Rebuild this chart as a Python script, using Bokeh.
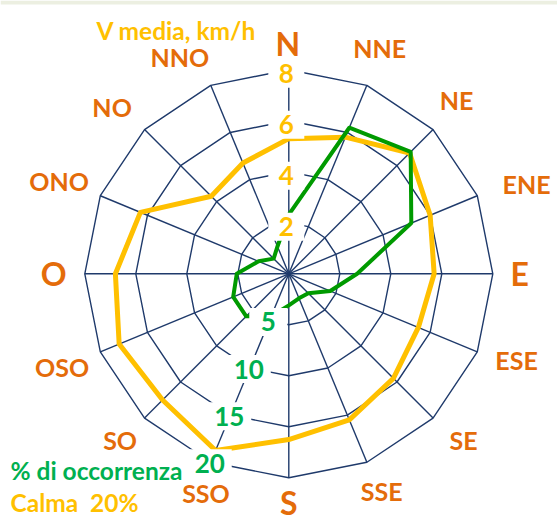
import numpy as np
from bokeh.plotting import figure
from bokeh.models import Range1d, Label
from bokeh.embed import file_html
from bokeh.resources import INLINE
from bokeh.core.properties import value

# ---------------- data ----------------
directions = ["N", "NNE", "NE", "ENE", "E", "ESE", "SE", "SSE",
              "S", "SSO", "SO", "OSO", "O", "ONO", "NO", "NNO"]
v_media = [5.3, 5.8, 6.7, 6.0, 5.7, 5.5, 5.8, 6.2,
           6.5, 7.5, 7.0, 7.2, 6.8, 6.3, 4.3, 4.7]          # km/h
occorrenza = [5.8, 15.5, 16.9, 13.0, 6.7, 4.4, 2.7, 2.6,
              3.1, 4.5, 5.9, 5.9, 5.1, 3.2, 2.1, 2.9]       # %
v_ticks = [2, 4, 6, 8]
occ_ticks = [5, 10, 15, 20]
V_MAX = 8
OCC_MAX = 20
title_v = "V media, km/h"
title_occ = "% di occorrenza"
calma_text = "Calma  20%"
big_dirs = ["N", "E", "S", "O"]

# ---------------- layout / styles ----------------
FONT = value("Lato")
C_DIR = "#E46C0A"
C_GOLD = "#FFC000"
C_GREEN_TXT = "#00B050"
C_GREEN_LINE = "#009A00"
C_GRID = "#1F3A6B"
W, H = 557, 522
CX, CY = 288.3, 273.3        # centre of the rose in page pixels
R = 204.0                    # outer ring radius in px
# small nudges (px, right / down) of the direction labels, as Excel placed them
nudge = {"N": (-1, 2), "NNE": (-1, -4), "NE": (-2, -4), "ENE": (16, 2),
         "E": (-1, 0), "ESE": (6, -6), "SE": (5, -4), "SSE": (1, -5),
         "S": (0, -3), "SSO": (9, -3), "SO": (1, -4), "OSO": (-5, 1),
         "O": (-3, 0), "ONO": (-8, -1), "NO": (-7, 3), "NNO": (-17, 5)}

n = len(directions)
theta = np.deg2rad(np.arange(n) * 360.0 / n)
s, c = np.sin(theta), np.cos(theta)


def polar(vals, vmax):
    r = np.asarray(vals, dtype=float) / vmax * R
    return r * s, r * c


def closed(a):
    a = list(a)
    return a + a[:1]


p = figure(width=W, height=H,
           x_range=Range1d(-CX, W - CX), y_range=Range1d(CY - H, CY),
           x_axis_type=None, y_axis_type=None,
           toolbar_location=None, output_backend="svg", min_border=0)
p.grid.visible = False
p.outline_line_color = None
p.background_fill_color = "white"
p.border_fill_color = "white"

# thin pale band at the top of the slide
p.quad(left=-CX, right=W - CX, top=CY, bottom=CY - 4,
       fill_color="#ECEFE1", line_color=None)

# grid rings
ring_xs, ring_ys = [], []
for t in v_ticks:
    gx_, gy_ = polar([t] * n, V_MAX)
    ring_xs.append(closed(gx_))
    ring_ys.append(closed(gy_))
p.multi_line(ring_xs, ring_ys, line_color=C_GRID, line_width=1.4)

# spokes
ox, oy = polar([V_MAX] * n, V_MAX)
p.segment(x0=np.zeros(n), y0=np.zeros(n), x1=ox, y1=oy,
          line_color=C_GRID, line_width=1.4)

# series
vx, vy = polar(v_media, V_MAX)
p.line(closed(vx), closed(vy), line_color=C_GOLD, line_width=5, line_join="round")
gx, gy = polar(occorrenza, OCC_MAX)
p.line(closed(gx), closed(gy), line_color=C_GREEN_LINE, line_width=4, line_join="round")

# radial labels with white boxes
i_n = directions.index("N")
i_sso = directions.index("SSO")
vr = np.array(v_ticks, dtype=float) / V_MAX * R
vlx = vr * s[i_n] - 2.5
vly = vr * c[i_n] - 4
orr = np.array(occ_ticks, dtype=float) / OCC_MAX * R
olx = orr * s[i_sso] - 1
oly = orr * c[i_sso] - 1

v_lab = [str(t) for t in v_ticks]
o_lab = [str(t) for t in occ_ticks]
p.rect(vlx, vly, width=[36 if len(t) == 1 else 44 for t in v_lab], height=28,
       width_units="screen", height_units="screen",
       fill_color="white", line_color=None)
p.rect(olx, oly, width=[38 if len(t) == 1 else 44 for t in o_lab], height=28,
       width_units="screen", height_units="screen",
       fill_color="white", line_color=None)
p.text(vlx, vly, text=v_lab, text_font=FONT, text_font_style="bold",
       text_font_size="26px", text_color=C_GOLD,
       text_align="center", text_baseline="middle")
p.text(olx, oly, text=o_lab, text_font=FONT, text_font_style="bold",
       text_font_size="26px", text_color=C_GREEN_TXT,
       text_align="center", text_baseline="middle")

# direction labels
is_big = np.array([d in big_dirs for d in directions])
rad = np.where(is_big, 232.0, 240.0)
ndx = np.array([nudge[d][0] for d in directions], dtype=float)
ndy = np.array([nudge[d][1] for d in directions], dtype=float)
dlx = rad * s + ndx
dly = rad * c - ndy
small = ~is_big
p.text(dlx[small], dly[small], text=[d for d, b in zip(directions, is_big) if not b],
       text_font=FONT, text_font_style="bold", text_font_size="25px",
       text_color=C_DIR, text_align="center", text_baseline="middle")
p.text(dlx[is_big], dly[is_big], text=[d for d, b in zip(directions, is_big) if b],
       text_font=FONT, text_font_style="bold", text_font_size="32px",
       text_color=C_DIR, text_align="center", text_baseline="middle")

# free texts (page px from top-left -> screen px from bottom-left)
for txt, px, py, col in [(title_v, 96, 29.5, C_GOLD),
                         (title_occ, 10, 469.5, C_GREEN_TXT),
                         (calma_text, 10, 501.5, C_GOLD)]:
    p.add_layout(Label(x=px, y=H - py, x_units="screen", y_units="screen",
                       text=txt.replace("  ", "\u00a0 "),
                       text_font="Lato", text_font_style="bold",
                       text_font_size="24.5px", text_color=col,
                       text_align="left", text_baseline="middle"))

open("out.html", "w").write(file_html(p, INLINE))
